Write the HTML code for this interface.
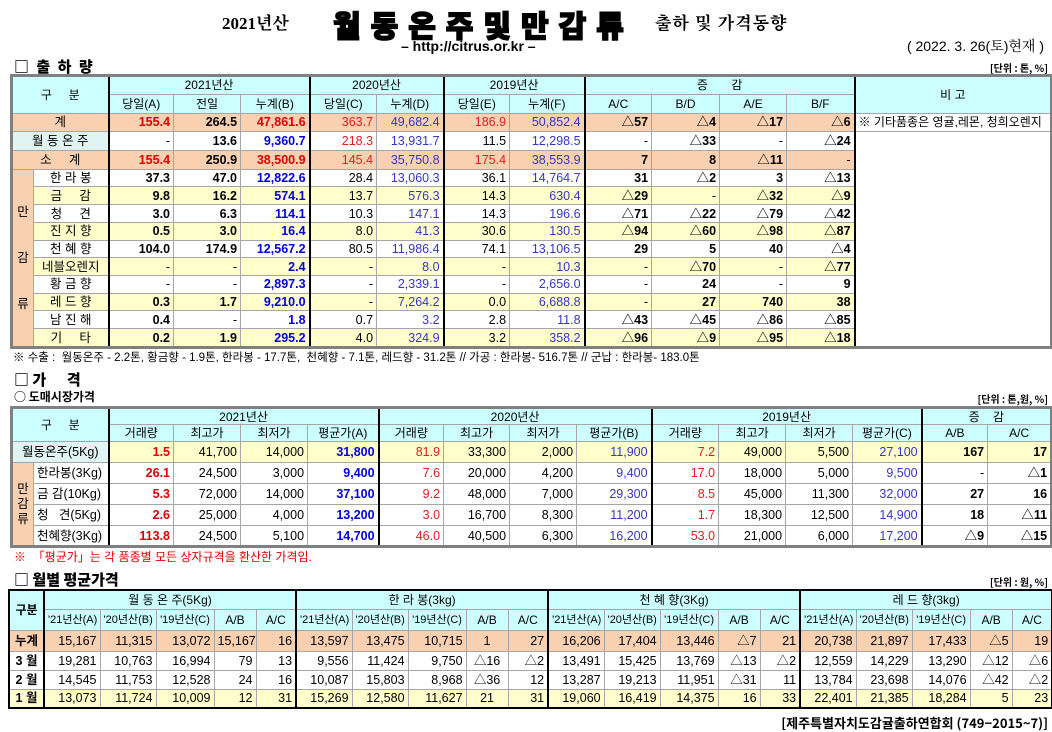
<!DOCTYPE html>
<html><head><meta charset="utf-8">
<style>
body{margin:0;width:1052px;height:731px;background:#fff;position:relative;overflow:hidden;font-family:"Liberation Sans","Noto Sans CJK KR",sans-serif;color:#000}
.a{position:absolute;white-space:nowrap}
table{position:absolute;border-collapse:collapse;table-layout:fixed;border:3px solid #808080}
td{border:1px solid #a6a6a6;padding:0 3px;text-align:right;font-size:12.5px;white-space:nowrap;overflow:hidden;line-height:12px}
.h td{background:#ccffff;text-align:center;font-size:12px}
.pe td{background:#f9d0b0}
.ye td{background:#ffffcc}
.c{text-align:center!important}
.r{color:#e00000;font-weight:bold}
.lr{color:#e02020}
.bl{color:#0000dd;font-weight:bold}
.lb{color:#3535c8}
.bd{font-weight:bold}
.gl{border-left:2px solid #000!important}
.pk{background:#f9d0b0!important;text-align:center!important}
.hc{background:#e0f4f4!important;text-align:center!important}
.s td{height:16px}
</style></head><body>
<div class="a" style="left:222px;top:9px;font:bold 17px 'Liberation Serif','Noto Serif CJK SC',serif">2021년산</div>
<div class="a" style="left:333px;top:2px;font:900 30px 'Noto Sans CJK KR',sans-serif;letter-spacing:10px;-webkit-text-stroke:1.5px #000">월동온주및만감류</div>
<div class="a" style="left:655px;top:9px;font:bold 17px 'Noto Serif CJK SC',serif;letter-spacing:1px">출하 및 가격동향</div>
<div class="a" style="left:401px;top:38px;font:bold 14px 'Liberation Sans',sans-serif">– http://citrus.or.kr –</div>
<div class="a" style="right:8px;top:36px;font:14px 'Liberation Sans','Noto Serif CJK SC',sans-serif">( 2022. 3. 26(토)현재 )</div>
<div class="a" style="left:14px;top:56px;font:900 15px 'Noto Sans CJK KR',sans-serif;letter-spacing:2px">□ 출 하 량</div>
<div class="a" style="right:4px;top:60px;font:bold 10px 'Noto Sans CJK KR',sans-serif">[단위 : 톤, %]</div>

<table style="left:10px;top:74px;width:1043px;height:275px">
<colgroup><col style="width:22px"><col style="width:75px"><col style="width:65px"><col style="width:67px"><col style="width:69px"><col style="width:67px"><col style="width:67px"><col style="width:66px"><col style="width:75px"><col style="width:67px"><col style="width:68px"><col style="width:67px"><col style="width:68px"><col style="width:197px"></colgroup>
<tr class="h" style="height:18px"><td colspan="2" rowspan="2">구 &nbsp; &nbsp; 분</td><td colspan="3" class="gl">2021년산</td><td colspan="2" class="gl">2020년산</td><td colspan="2" class="gl">2019년산</td><td colspan="4" class="gl">증 &nbsp; &nbsp; &nbsp; 감</td><td rowspan="2" class="gl">비 고</td></tr>
<tr class="h" style="height:18px"><td class="gl">당일(A)</td><td>전일</td><td>누계(B)</td><td class="gl">당일(C)</td><td>누계(D)</td><td class="gl">당일(E)</td><td>누계(F)</td><td class="gl">A/C</td><td>B/D</td><td>A/E</td><td>B/F</td></tr>
<tr class="pe" style="height:18px"><td colspan="2" class="c">계</td><td class="gl r">155.4</td><td class="bd">264.5</td><td class="r">47,861.6</td><td class="gl lr">363.7</td><td class="lb">49,682.4</td><td class="gl lr">186.9</td><td class="lb">50,852.4</td><td class="gl bd">△57</td><td class="bd">△4</td><td class="bd">△17</td><td class="bd">△6</td><td class="gl" style="background:#fff;text-align:left;font-size:12px">※ 기타품종은 영귤,레몬, 청희오렌지</td></tr>
<tr style="height:18px"><td colspan="2" class="hc">월 동 온 주</td><td class="gl">-</td><td class="bd">13.6</td><td class="bl">9,360.7</td><td class="gl lr">218.3</td><td class="lb">13,931.7</td><td class="gl">11.5</td><td class="lb">12,298.5</td><td class="gl">-</td><td class="bd">△33</td><td>-</td><td class="bd">△24</td><td rowspan="13" class="gl" style="border:none;border-left:2px solid #000"></td></tr>
<tr class="pe" style="height:18px"><td colspan="2" class="c">소 &nbsp; &nbsp; 계</td><td class="gl r">155.4</td><td class="bd">250.9</td><td class="r">38,500.9</td><td class="gl lr">145.4</td><td class="lb">35,750.8</td><td class="gl lr">175.4</td><td class="lb">38,553.9</td><td class="gl bd">7</td><td class="bd">8</td><td class="bd">△11</td><td>-</td></tr>
<tr class="s"><td rowspan="11" class="pk" style="line-height:46px">만<br>감<br>류</td><td class="c">한 라 봉</td><td class="gl bd">37.3</td><td class="bd">47.0</td><td class="bl">12,822.6</td><td class="gl">28.4</td><td class="lb">13,060.3</td><td class="gl">36.1</td><td class="lb">14,764.7</td><td class="gl bd">31</td><td class="bd">△2</td><td class="bd">3</td><td class="bd">△13</td></tr>
<tr class="s ye"><td class="c">금 &nbsp; &nbsp; 감</td><td class="gl bd">9.8</td><td class="bd">16.2</td><td class="bl">574.1</td><td class="gl">13.7</td><td class="lb">576.3</td><td class="gl">14.3</td><td class="lb">630.4</td><td class="gl bd">△29</td><td>-</td><td class="bd">△32</td><td class="bd">△9</td></tr>
<tr class="s"><td class="c">청 &nbsp; &nbsp; 견</td><td class="gl bd">3.0</td><td class="bd">6.3</td><td class="bl">114.1</td><td class="gl">10.3</td><td class="lb">147.1</td><td class="gl">14.3</td><td class="lb">196.6</td><td class="gl bd">△71</td><td class="bd">△22</td><td class="bd">△79</td><td class="bd">△42</td></tr>
<tr class="s ye"><td class="c">진 지 향</td><td class="gl bd">0.5</td><td class="bd">3.0</td><td class="bl">16.4</td><td class="gl">8.0</td><td class="lb">41.3</td><td class="gl">30.6</td><td class="lb">130.5</td><td class="gl bd">△94</td><td class="bd">△60</td><td class="bd">△98</td><td class="bd">△87</td></tr>
<tr class="s"><td class="c">천 혜 향</td><td class="gl bd">104.0</td><td class="bd">174.9</td><td class="bl">12,567.2</td><td class="gl">80.5</td><td class="lb">11,986.4</td><td class="gl">74.1</td><td class="lb">13,106.5</td><td class="gl bd">29</td><td class="bd">5</td><td class="bd">40</td><td class="bd">△4</td></tr>
<tr class="s ye"><td class="c">네블오렌지</td><td class="gl">-</td><td>-</td><td class="bl">2.4</td><td class="gl">-</td><td class="lb">8.0</td><td class="gl">-</td><td class="lb">10.3</td><td class="gl">-</td><td class="bd">△70</td><td>-</td><td class="bd">△77</td></tr>
<tr class="s"><td class="c">황 금 향</td><td class="gl">-</td><td>-</td><td class="bl">2,897.3</td><td class="gl">-</td><td class="lb">2,339.1</td><td class="gl">-</td><td class="lb">2,656.0</td><td class="gl">-</td><td class="bd">24</td><td>-</td><td class="bd">9</td></tr>
<tr class="s ye"><td class="c">레 드 향</td><td class="gl bd">0.3</td><td class="bd">1.7</td><td class="bl">9,210.0</td><td class="gl">-</td><td class="lb">7,264.2</td><td class="gl">0.0</td><td class="lb">6,688.8</td><td class="gl">-</td><td class="bd">27</td><td class="bd">740</td><td class="bd">38</td></tr>
<tr class="s"><td class="c">남 진 해</td><td class="gl bd">0.4</td><td>-</td><td class="bl">1.8</td><td class="gl">0.7</td><td class="lb">3.2</td><td class="gl">2.8</td><td class="lb">11.8</td><td class="gl bd">△43</td><td class="bd">△45</td><td class="bd">△86</td><td class="bd">△85</td></tr>
<tr class="s ye"><td class="c">기 &nbsp; &nbsp; 타</td><td class="gl bd">0.2</td><td class="bd">1.9</td><td class="bl">295.2</td><td class="gl">4.0</td><td class="lb">324.9</td><td class="gl">3.2</td><td class="lb">358.2</td><td class="gl bd">△96</td><td class="bd">△9</td><td class="bd">△95</td><td class="bd">△18</td></tr>
</table>

<div class="a" style="left:13px;top:349px;font-size:11.5px">※ 수출 : &nbsp;월동온주 - 2.2톤, 황금향 - 1.9톤, 한라봉 - 17.7톤, &nbsp;천혜향 - 7.1톤, 레드향 - 31.2톤 // 가공 : 한라봉- 516.7톤 // 군납 : 한라봉- 183.0톤</div>
<div class="a" style="left:14px;top:369px;font:900 15px 'Noto Sans CJK KR',sans-serif">□ 가 &nbsp; &nbsp; &nbsp;격</div>
<div class="a" style="left:14px;top:388px;font:bold 12px 'Noto Sans CJK KR',sans-serif">○ 도매시장가격</div>
<div class="a" style="right:4px;top:391px;font:bold 10px 'Noto Sans CJK KR',sans-serif">[단위 : 톤,원, %]</div>

<table style="left:10px;top:406px;width:1043px">
<colgroup><col style="width:22px"><col style="width:75px"><col style="width:65px"><col style="width:67px"><col style="width:67px"><col style="width:71px"><col style="width:65px"><col style="width:66px"><col style="width:67px"><col style="width:75px"><col style="width:67px"><col style="width:67px"><col style="width:67px"><col style="width:69px"><col style="width:66px"><col style="width:64px"></colgroup>
<tr class="h" style="height:17px"><td colspan="2" rowspan="2">구 &nbsp; &nbsp; 분</td><td colspan="4" class="gl">2021년산</td><td colspan="4" class="gl">2020년산</td><td colspan="4" class="gl">2019년산</td><td colspan="2" class="gl">증 &nbsp; &nbsp;감</td></tr>
<tr class="h" style="height:17px"><td class="gl">거래량</td><td>최고가</td><td>최저가</td><td>평균가(A)</td><td class="gl">거래량</td><td>최고가</td><td>최저가</td><td>평균가(B)</td><td class="gl">거래량</td><td>최고가</td><td>최저가</td><td>평균가(C)</td><td class="gl">A/B</td><td style="border-left:1px dotted #000">A/C</td></tr>
<tr class="ye" style="height:21px"><td colspan="2" class="hc">월동온주(5Kg)</td><td class="gl r">1.5</td><td>41,700</td><td>14,000</td><td class="bl">31,800</td><td class="gl lr">81.9</td><td>33,300</td><td>2,000</td><td class="lb">11,900</td><td class="gl lr">7.2</td><td>49,000</td><td>5,500</td><td class="lb">27,100</td><td class="gl bd">167</td><td class="bd">17</td></tr>
<tr style="height:21px"><td rowspan="4" class="pk" style="line-height:15px">만<br>감<br>류</td><td class="c" style="text-align:left!important">한라봉(3Kg)</td><td class="gl r">26.1</td><td>24,500</td><td>3,000</td><td class="bl">9,400</td><td class="gl lr">7.6</td><td>20,000</td><td>4,200</td><td class="lb">9,400</td><td class="gl lr">17.0</td><td>18,000</td><td>5,000</td><td class="lb">9,500</td><td class="gl">-</td><td class="bd">△1</td></tr>
<tr style="height:21px"><td style="text-align:left">금 감(10Kg)</td><td class="gl r">5.3</td><td>72,000</td><td>14,000</td><td class="bl">37,100</td><td class="gl lr">9.2</td><td>48,000</td><td>7,000</td><td class="lb">29,300</td><td class="gl lr">8.5</td><td>45,000</td><td>11,300</td><td class="lb">32,000</td><td class="gl bd">27</td><td class="bd">16</td></tr>
<tr style="height:21px"><td style="text-align:left">청 &nbsp; 견(5Kg)</td><td class="gl r">2.6</td><td>25,000</td><td>4,000</td><td class="bl">13,200</td><td class="gl lr">3.0</td><td>16,700</td><td>8,300</td><td class="lb">11,200</td><td class="gl lr">1.7</td><td>18,300</td><td>12,500</td><td class="lb">14,900</td><td class="gl bd">18</td><td class="bd">△11</td></tr>
<tr style="height:21px"><td style="text-align:left">천혜향(3Kg)</td><td class="gl r">113.8</td><td>24,500</td><td>5,100</td><td class="bl">14,700</td><td class="gl lr">46.0</td><td>40,500</td><td>6,300</td><td class="lb">16,200</td><td class="gl lr">53.0</td><td>21,000</td><td>6,000</td><td class="lb">17,200</td><td class="gl bd">△9</td><td class="bd">△15</td></tr>
</table>
<div class="a" style="left:14px;top:548px;font-size:12px;color:#e00000">※ &nbsp;「평균가」는 각 품종별 모든 상자규격을 환산한 가격임.</div>

<div class="a" style="left:14px;top:569px;font:900 15px 'Noto Sans CJK KR',sans-serif">□ 월별 평균가격</div>
<div class="a" style="right:4px;top:574px;font:bold 10px 'Noto Sans CJK KR',sans-serif">[단위 : 원, %]</div>

<table style="left:8px;top:589px;width:1045px;border:2px solid #000">
<colgroup><col style="width:35px"><col style="width:56px"><col style="width:56px"><col style="width:58px"><col style="width:42px"><col style="width:40px"><col style="width:56px"><col style="width:56px"><col style="width:58px"><col style="width:42px"><col style="width:40px"><col style="width:56px"><col style="width:56px"><col style="width:58px"><col style="width:42px"><col style="width:40px"><col style="width:56px"><col style="width:56px"><col style="width:58px"><col style="width:42px"><col style="width:40px"></colgroup>
<tr class="h" style="height:19px"><td rowspan="2" class="bd">구분</td><td colspan="5" class="gl">월 동 온 주(5Kg)</td><td colspan="5" class="gl">한 라 봉(3kg)</td><td colspan="5" class="gl">천 혜 향(3Kg)</td><td colspan="5" class="gl">레 드 향(3kg)</td></tr>
<tr class="h" style="height:21px;font-size:11px"><td class="gl" style="font-size:11px">'21년산(A)</td><td style="font-size:11px">'20년산(B)</td><td style="font-size:11px">'19년산(C)</td><td>A/B</td><td>A/C</td><td class="gl" style="font-size:11px">'21년산(A)</td><td style="font-size:11px">'20년산(B)</td><td style="font-size:11px">'19년산(C)</td><td>A/B</td><td>A/C</td><td class="gl" style="font-size:11px">'21년산(A)</td><td style="font-size:11px">'20년산(B)</td><td style="font-size:11px">'19년산(C)</td><td>A/B</td><td>A/C</td><td class="gl" style="font-size:11px">'21년산(A)</td><td style="font-size:11px">'20년산(B)</td><td style="font-size:11px">'19년산(C)</td><td>A/B</td><td>A/C</td></tr>
<tr class="pe" style="height:21px"><td class="c bd">누계</td><td class="gl">15,167</td><td>11,315</td><td>13,072</td><td>15,167</td><td>16</td><td class="gl">13,597</td><td>13,475</td><td>10,715</td><td class="c">1</td><td>27</td><td class="gl">16,206</td><td>17,404</td><td>13,446</td><td>△7</td><td>21</td><td class="gl">20,738</td><td>21,897</td><td>17,433</td><td>△5</td><td>19</td></tr>
<tr style="height:19px"><td class="c bd">3 월</td><td class="gl">19,281</td><td>10,763</td><td>16,994</td><td>79</td><td>13</td><td class="gl">9,556</td><td>11,424</td><td>9,750</td><td class="c">△16</td><td>△2</td><td class="gl">13,491</td><td>15,425</td><td>13,769</td><td>△13</td><td>△2</td><td class="gl">12,559</td><td>14,229</td><td>13,290</td><td>△12</td><td>△6</td></tr>
<tr style="height:19px"><td class="c bd">2 월</td><td class="gl">14,545</td><td>11,753</td><td>12,528</td><td>24</td><td>16</td><td class="gl">10,087</td><td>15,803</td><td>8,968</td><td class="c">△36</td><td>12</td><td class="gl">13,287</td><td>19,213</td><td>11,951</td><td>△31</td><td>11</td><td class="gl">13,784</td><td>23,698</td><td>14,076</td><td>△42</td><td>△2</td></tr>
<tr class="ye" style="height:19px"><td class="c bd">1 월</td><td class="gl">13,073</td><td>11,724</td><td>10,009</td><td>12</td><td>31</td><td class="gl">15,269</td><td>12,580</td><td>11,627</td><td class="c">21</td><td>31</td><td class="gl">19,060</td><td>16,419</td><td>14,375</td><td>16</td><td>33</td><td class="gl">22,401</td><td>21,385</td><td>18,284</td><td>5</td><td>23</td></tr>
</table>
<div class="a" style="right:4px;top:713px;font:bold 13px 'Noto Sans CJK KR',sans-serif">[제주특별자치도감귤출하연합회 (749−2015~7)]</div>
</body></html>
